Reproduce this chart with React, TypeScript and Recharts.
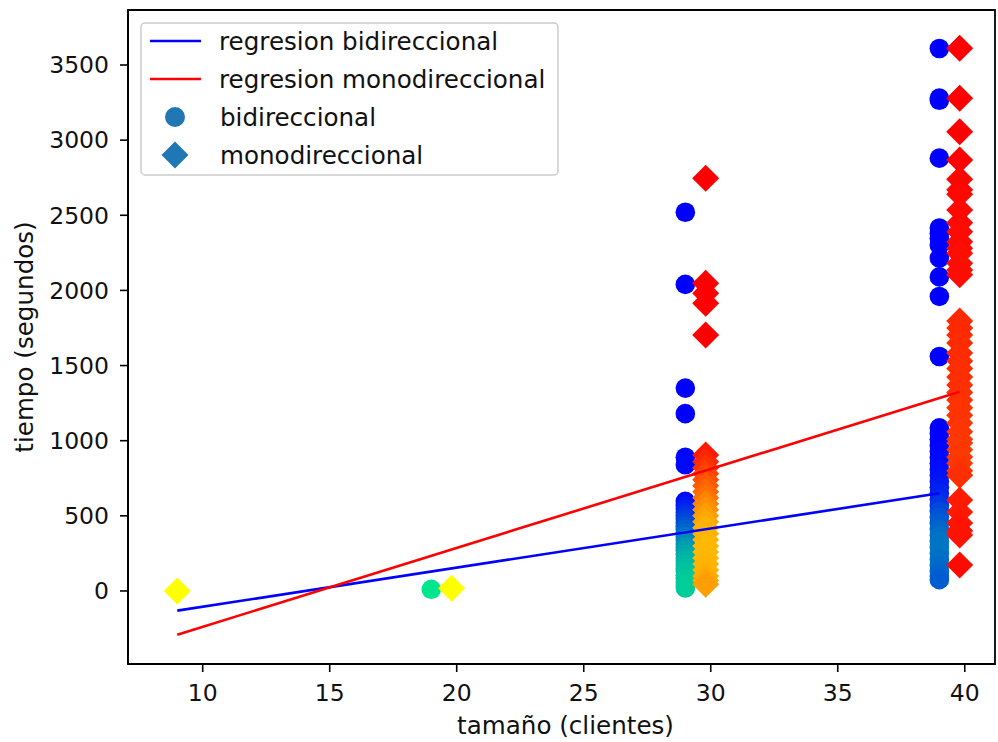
import React from "react";
import { ScatterChart, Scatter, XAxis, YAxis, ReferenceArea, Label } from "recharts";

const FONT = '"DejaVu Sans", "Bitstream Vera Sans", sans-serif';
const TICK_FS = 23.5;
const TEXT_FS = 24.6;

// where each group sits on the x axis (tamaño, clientes)
const bidiSizes = [19, 29, 39];
const monoSizes = [9, 19.8, 29.8, 39.8];

// tiempo (segundos) per group
const bidiTimes = [
  [11],
  [2520, 2040, 1350, 1180, 890, 840, 596, 570, 545, 520, 500, 480, 455, 430, 410, 385, 360, 340, 315, 290, 270, 245, 220, 200, 175, 150, 130, 105, 85, 60, 40, 20],
  [3610, 3280, 3265, 2880, 2415, 2380, 2345, 2300, 2215, 2090, 1960, 1560, 1085, 1050, 1010, 970, 930, 890, 850, 810, 770, 730, 690, 650, 610, 570, 530, 490, 450, 410, 370, 330, 290, 250, 210, 170, 130, 100, 75],
];
// colour value fed to the colormap (winter)
const bidiShade = [
  [0.9],
  [0, 0, 0, 0, 0.02, 0.03, 0.04, 0.08, 0.12, 0.16, 0.2, 0.24, 0.28, 0.32, 0.36, 0.4, 0.45, 0.5, 0.54, 0.58, 0.62, 0.65, 0.68, 0.7, 0.72, 0.74, 0.76, 0.77, 0.78, 0.79, 0.8, 0.8],
  [0, 0, 0, 0, 0, 0, 0, 0, 0, 0, 0, 0, 0, 0, 0, 0, 0.02, 0.03, 0.04, 0.05, 0.06, 0.08, 0.1, 0.13, 0.17, 0.22, 0.28, 0.32, 0.36, 0.4, 0.43, 0.45, 0.46, 0.46, 0.44, 0.42, 0.4, 0.38, 0.36],
];

const monoTimes = [
  [0],
  [18],
  [2746, 2047, 1981, 1914, 1703, 905, 860, 820, 780, 740, 700, 660, 620, 580, 540, 500, 460, 420, 380, 340, 300, 260, 220, 180, 140, 100, 70, 45],
  [3611, 3278, 3056, 2868, 2740, 2670, 2640, 2535, 2450, 2391, 2324, 2280, 2247, 2180, 2136, 2105, 1797, 1750, 1703, 1650, 1584, 1530, 1480, 1424, 1370, 1320, 1271, 1220, 1170, 1118, 1060, 1010, 985, 940, 892, 850, 800, 770, 605, 525, 452, 400, 373, 173],
];
// colour value fed to the colormap (autumn)
const monoShade = [
  [1],
  [1],
  [0, 0, 0, 0, 0, 0.1, 0.15, 0.2, 0.25, 0.3, 0.35, 0.4, 0.45, 0.52, 0.57, 0.62, 0.66, 0.69, 0.7, 0.71, 0.72, 0.72, 0.72, 0.71, 0.7, 0.68, 0.65, 0.62],
  [0, 0, 0, 0, 0.02, 0.02, 0.03, 0.03, 0.03, 0.04, 0.04, 0.04, 0.05, 0.05, 0.05, 0.05, 0.16, 0.16, 0.16, 0.17, 0.17, 0.17, 0.18, 0.18, 0.18, 0.19, 0.19, 0.2, 0.2, 0.2, 0.21, 0.21, 0.22, 0.22, 0.22, 0.22, 0.2, 0.18, 0.1, 0.1, 0.08, 0.08, 0.07, 0.04],
];

// regression end points
const bidiFitX = [9, 39];
const bidiFitY = [-131, 650];
const monoFitX = [9, 39.8];
const monoFitY = [-291, 1326];

const xTicks = [10, 15, 20, 25, 30, 35, 40];
const yTicks = [0, 500, 1000, 1500, 2000, 2500, 3000, 3500];
const xDomain: [number, number] = [7.06, 41.19];
const yDomain: [number, number] = [-486, 3866];

const toPoints = (sizes: number[], times: number[][], shade: number[][]) =>
  sizes.flatMap((s, i) => times[i].map((t, j) => ({ x: s, y: t, c: shade[i][j] })));

const bidiData = toPoints(bidiSizes, bidiTimes, bidiShade);
const monoData = toPoints(monoSizes, monoTimes, monoShade);
const bidiFit = bidiFitX.map((x, i) => ({ x, y: bidiFitY[i] }));
const monoFit = monoFitX.map((x, i) => ({ x, y: monoFitY[i] }));

const winter = (c: number) =>
  `rgb(0, ${Math.round(255 * c)}, ${Math.round(255 * (1 - c / 2))})`;
const autumn = (c: number) => `rgb(255, ${Math.round(255 * c)}, 0)`;

const Dot = (p: any) => (
  <circle cx={p.cx} cy={p.cy} r={9.8} fill={winter(p.payload.c)} />
);

const Diamond = (p: any) => {
  const h = 13.5;
  return (
    <polygon
      points={`${p.cx},${p.cy - h} ${p.cx + h},${p.cy} ${p.cx},${p.cy + h} ${p.cx - h},${p.cy}`}
      fill={autumn(p.payload.c)}
    />
  );
};

const NoMark = () => <g />;

const tickStyle = { fill: "#111", fontSize: TICK_FS, fontFamily: FONT };

function ChartLegend() {
  const rows = [
    { label: "regresion bidireccional", kind: "line", color: "#0000ff" },
    { label: "regresion monodireccional", kind: "line", color: "#ff0000" },
    { label: "bidireccional", kind: "circle", color: "#1f77b4" },
    { label: "monodireccional", kind: "diamond", color: "#1f77b4" },
  ];
  return (
    <svg
      width={420}
      height={156}
      style={{ position: "absolute", left: 140, top: 22 }}
    >
      <rect
        x={1}
        y={1}
        width={417}
        height={152}
        rx={4}
        fill="rgba(255,255,255,0.8)"
        stroke="#cccccc"
        strokeWidth={1.5}
      />
      {rows.map((r, i) => {
        const cy = 19 + i * 38;
        return (
          <g key={r.label}>
            {r.kind === "line" && (
              <line x1={10} x2={61} y1={cy} y2={cy} stroke={r.color} strokeWidth={2.6} />
            )}
            {r.kind === "circle" && <circle cx={35} cy={cy} r={10} fill={r.color} />}
            {r.kind === "diamond" && (
              <polygon
                points={`35,${cy - 13.5} 48.5,${cy} 35,${cy + 13.5} 21.5,${cy}`}
                fill={r.color}
              />
            )}
            <text
              x={r.kind === "line" ? 79 : 80}
              y={cy}
              dy="0.35em"
              fontSize={TEXT_FS}
              fontFamily={FONT}
              fill="#111"
            >
              {r.label}
            </text>
          </g>
        );
      })}
    </svg>
  );
}

export default function App() {
  return (
    <div style={{ position: "absolute", left: 0, top: 0, width: 998, height: 742, background: "#fff" }}>
      <ScatterChart
        width={998}
        height={742}
        margin={{ top: 10, right: 3, left: 0, bottom: 0 }}
      >
        <XAxis
          type="number"
          dataKey="x"
          domain={xDomain}
          allowDataOverflow
          ticks={xTicks}
          tick={tickStyle}
          tickSize={8}
          tickMargin={12}
          height={78}
          axisLine={{ stroke: "#000", strokeWidth: 1.8 }}
          tickLine={{ stroke: "#000", strokeWidth: 1.6 }}
        >
          <Label
            content={({ viewBox }: any) => (
              <text
                x={viewBox.x + viewBox.width / 2 + 4}
                y={734}
                textAnchor="middle"
                fontSize={TEXT_FS}
                fontFamily={FONT}
                fill="#111"
              >
                tamaño (clientes)
              </text>
            )}
          />
        </XAxis>
        <YAxis
          type="number"
          dataKey="y"
          domain={yDomain}
          allowDataOverflow
          ticks={yTicks}
          tick={tickStyle}
          tickSize={8}
          tickMargin={11}
          width={128}
          axisLine={{ stroke: "#000", strokeWidth: 1.8 }}
          tickLine={{ stroke: "#000", strokeWidth: 1.6 }}
        >
          <Label
            content={({ viewBox }: any) => {
              const cx = 33;
              const cy = viewBox.y + viewBox.height / 2;
              return (
                <text
                  x={cx}
                  y={cy}
                  transform={`rotate(-90, ${cx}, ${cy})`}
                  textAnchor="middle"
                  fontSize={TEXT_FS}
                  fontFamily={FONT}
                  fill="#111"
                >
                  tiempo (segundos)
                </text>
              );
            }}
          />
        </YAxis>
        <Scatter data={bidiData} shape={Dot} isAnimationActive={false} />
        <Scatter data={monoData} shape={Diamond} isAnimationActive={false} />
        <Scatter
          data={bidiFit}
          shape={NoMark}
          line={{ stroke: "#0000ff", strokeWidth: 2.6 }}
          isAnimationActive={false}
        />
        <Scatter
          data={monoFit}
          shape={NoMark}
          line={{ stroke: "#ff0000", strokeWidth: 2.6 }}
          isAnimationActive={false}
        />
        <ReferenceArea
          x1={xDomain[0]}
          x2={xDomain[1]}
          y1={yDomain[0]}
          y2={yDomain[1]}
          fill="none"
          stroke="#000"
          strokeWidth={1.8}
        />
      </ScatterChart>
      <ChartLegend />
    </div>
  );
}
